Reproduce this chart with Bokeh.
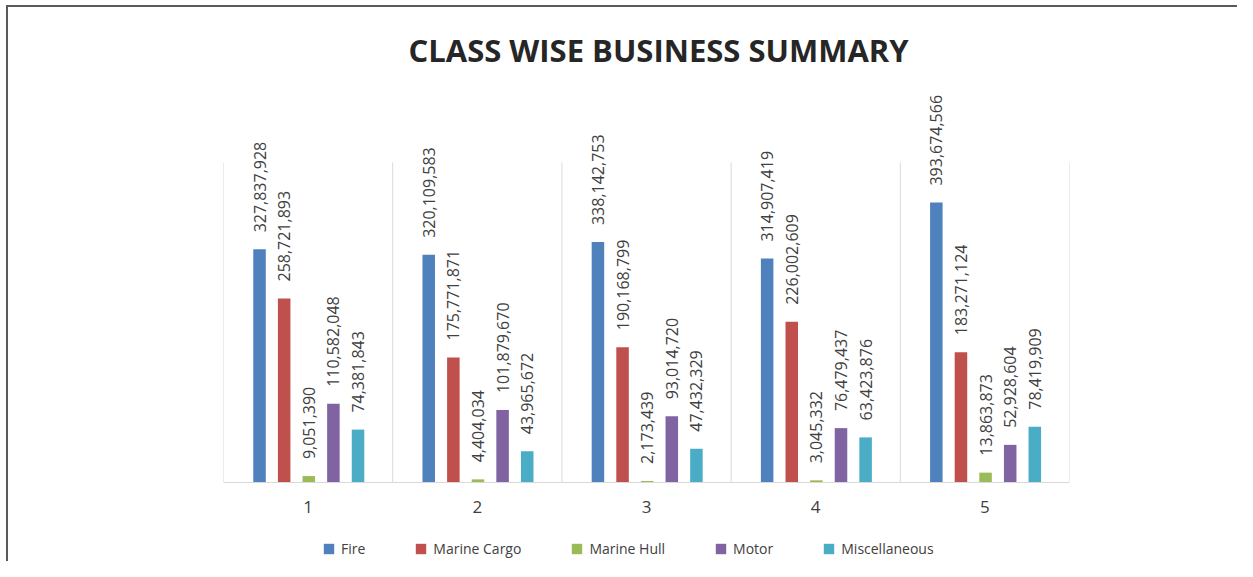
from bokeh.plotting import figure
from bokeh.models import ColumnDataSource, FixedTicker, Legend, LegendItem, Range1d, Title
from bokeh.transform import dodge
from bokeh.core.properties import value
from bokeh.embed import file_html
from bokeh.resources import INLINE

categories = ["1", "2", "3", "4", "5"]
series_names = ["Fire", "Marine Cargo", "Marine Hull", "Motor", "Miscellaneous"]
fire = [327837928, 320109583, 338142753, 314907419, 393674566]
marine_cargo = [258721893, 175771871, 190168799, 226002609, 183271124]
marine_hull = [9051390, 4404034, 2173439, 3045332, 13863873]
motor = [110582048, 101879670, 93014720, 76479437, 52928604]
miscellaneous = [74381843, 43965672, 47432329, 63423876, 78419909]
colors = ["#4F81BD", "#C0504D", "#9BBB59", "#8064A2", "#4BACC6"]
y_axis_max = 450_000_000

all_series = [fire, marine_cargo, marine_hull, motor, miscellaneous]
centers = [i + 0.5 for i in range(len(categories))]
bounds = list(range(len(categories) + 1))

# plot area of the chart: 846 x 320 px for 0..y_axis_max,
# with headroom above (labels) and room below (axis labels, legend)
FW, FH_AXIS, HEAD, FOOT = 846, 320, 72, 79
FH = FH_AXIS + HEAD + FOOT
p = figure(width=1229, height=554, frame_width=FW, frame_height=FH,
           min_border_left=215, min_border_right=168, min_border_top=83, min_border_bottom=0,
           x_range=Range1d(0, len(categories)),
           y_range=Range1d(-y_axis_max * FOOT / FH_AXIS, y_axis_max * (FH_AXIS + HEAD) / FH_AXIS),
           y_axis_location=None, toolbar_location=None, output_backend="svg",
           outline_line_color=None, background_fill_color="white", border_fill_color="white")

p.styles = {"border-left": "2px solid #5a5a5a", "border-top": "2px solid #5a5a5a",
            "margin-left": "6px", "margin-top": "5px"}

title = Title(text="CLASS WISE BUSINESS SUMMARY", align="left", offset=185, standoff=39,
              text_font="Open Sans", text_font_size="31px", text_font_style="bold",
              text_color="#262626")
p.add_layout(title, "above")

# vertical gridlines between categories, up to the axis maximum
p.segment(x0=bounds, y0=[0] * len(bounds), x1=bounds, y1=[y_axis_max] * len(bounds),
          line_color="#d9d9d9", line_width=1)

step = 0.1455
bar_w = 0.074
items = []
for k, (name, vals, col) in enumerate(zip(series_names, all_series, colors)):
    src = ColumnDataSource(dict(x=centers, v=vals, lab=[f"{v:,}" for v in vals]))
    off = (k - 2) * step + 0.004
    r = p.vbar(x=dodge("x", off), top="v", width=bar_w, bottom=0, source=src,
               fill_color=col, line_color=None)
    p.text(x=dodge("x", off), y="v", text="lab", source=src, angle=1.5707963,
           text_align="left", text_baseline="middle", y_offset=-17,
           text_font=value("Open Sans"), text_font_size="16px", text_color="#404040")
    items.append(LegendItem(label=name, renderers=[r]))

p.xaxis.fixed_location = 0
p.xaxis.ticker = FixedTicker(ticks=centers)
p.xaxis.major_label_overrides = {c: lab for c, lab in zip(centers, categories)}
p.xaxis.major_tick_line_color = None
p.xaxis.minor_tick_line_color = None
p.xaxis.axis_line_color = "#d9d9d9"
p.xaxis.axis_line_width = 1
p.xaxis.major_label_text_font = "Open Sans"
p.xaxis.major_label_text_font_size = "17px"
p.xaxis.major_label_text_color = "#404040"
p.xaxis.major_label_standoff = 12

p.xgrid.grid_line_color = None
p.ygrid.grid_line_color = None

legend = Legend(items=items, orientation="horizontal", location=(99, 3),
                glyph_width=13, glyph_height=13, label_standoff=6, spacing=49,
                padding=2, margin=0, border_line_color=None, background_fill_color=None,
                label_text_font="Open Sans", label_text_font_size="14px",
                label_text_color="#404040")
p.add_layout(legend)

open("out.html", "w").write(file_html(p, INLINE))
